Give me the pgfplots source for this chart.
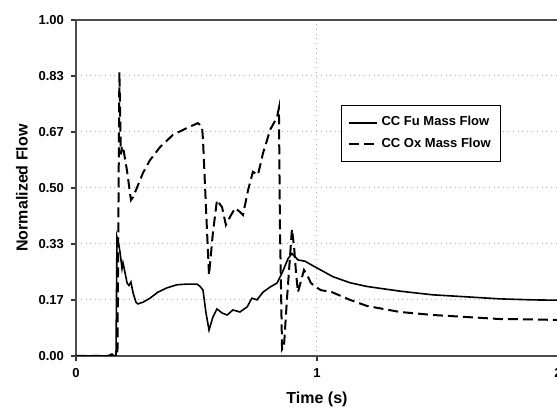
\documentclass[border=0pt]{standalone}
\usepackage{fontspec}
\setmainfont{Liberation Sans}
\usepackage{pgfplots}
\pgfplotsset{compat=1.18}

\pgfplotstableread{
x y
0.000 0.000
0.133 0.000
0.149 0.006
0.158 0.000
0.166 0.000
0.170 0.354
0.178 0.330
0.183 0.307
0.191 0.260
0.195 0.277
0.203 0.250
0.212 0.217
0.220 0.210
0.228 0.220
0.237 0.187
0.249 0.160
0.257 0.155
0.278 0.160
0.307 0.172
0.340 0.190
0.378 0.203
0.419 0.212
0.461 0.214
0.502 0.214
0.515 0.207
0.527 0.196
0.539 0.130
0.552 0.077
0.568 0.116
0.585 0.140
0.606 0.128
0.627 0.122
0.651 0.137
0.680 0.131
0.710 0.146
0.730 0.172
0.751 0.167
0.776 0.190
0.805 0.205
0.834 0.217
0.855 0.247
0.880 0.290
0.896 0.305
0.921 0.286
0.950 0.282
1.000 0.262
1.066 0.236
1.137 0.218
1.207 0.207
1.344 0.193
1.481 0.182
1.622 0.176
1.759 0.170
1.896 0.167
2.000 0.166
}\fuel

\pgfplotstableread{
x y
0.000 0.000
0.172 0.000
0.180 0.845
0.186 0.600
0.191 0.625
0.198 0.610
0.212 0.550
0.228 0.464
0.237 0.473
0.278 0.545
0.307 0.583
0.349 0.622
0.402 0.658
0.461 0.679
0.506 0.693
0.523 0.682
0.527 0.643
0.544 0.366
0.552 0.241
0.568 0.366
0.585 0.464
0.606 0.443
0.622 0.390
0.639 0.414
0.660 0.440
0.680 0.429
0.693 0.420
0.714 0.494
0.734 0.548
0.755 0.539
0.776 0.604
0.793 0.643
0.805 0.673
0.817 0.688
0.834 0.711
0.842 0.738
0.846 0.400
0.855 0.020
0.863 0.030
0.876 0.176
0.888 0.295
0.896 0.378
0.905 0.324
0.913 0.247
0.921 0.190
0.938 0.235
0.946 0.256
0.959 0.241
0.975 0.217
0.996 0.205
1.016 0.196
1.062 0.190
1.137 0.167
1.207 0.149
1.344 0.131
1.481 0.122
1.622 0.116
1.759 0.110
1.896 0.109
2.000 0.107
}\oxid

\begin{document}
\begin{tikzpicture}
\begin{axis}[name=ax, scale only axis, width=241pt, height=168pt,
  xmin=0, xmax=2, ymin=0, ymax=1,
  xtick={0,1,2}, xticklabels={0,1,2},
  ytick={0,0.16667,0.33333,0.5,0.66667,0.83333,1},
  yticklabels={0.00,0.17,0.33,0.50,0.67,0.83,1.00},
  /pgf/number format/assume math mode=true,
  tick pos=left, tick align=outside, major tick length=2.5pt,
  tick style={black!80, line width=0.6pt},
  grid=major, grid style={gray!60, dotted, line width=0.5pt},
  axis line style={black!70, line width=0.8pt},
  tick label style={font=\fontsize{6.5}{7}\selectfont\bfseries},
  label style={font=\fontsize{8}{9}\selectfont\bfseries},
  xlabel={Time (s)}, ylabel={Normalized Flow},
  xlabel style={at={(axis description cs:0.5,-0.128)}, anchor=center},
  ylabel style={at={(axis description cs:-0.112,0.5)}, anchor=center},
  legend style={at={(axis cs:1.10,0.747)}, anchor=north west,
    draw=black, line width=0.5pt, fill=white,
    font=\fontsize{6.5}{7.5}\selectfont\bfseries,
    inner xsep=3pt, inner ysep=3.5pt, row sep=0.5pt},
  legend cell align=left,
  legend image code/.code={\draw[#1] (0pt,0pt) -- (14pt,0pt);},
]
\addplot[black, line width=0.8pt] table {\fuel};
\addlegendentry{CC Fu Mass Flow}
\addplot[black, line width=1pt, dash pattern=on 5pt off 2.5pt] table {\oxid};
\addlegendentry{CC Ox Mass Flow}
\end{axis}
\pgfresetboundingbox
\path[use as bounding box] ([shift={(-38pt,-27.5pt)}]ax.south west) rectangle ([shift={(-0.5pt,10pt)}]ax.north east);
\end{tikzpicture}
\end{document}
